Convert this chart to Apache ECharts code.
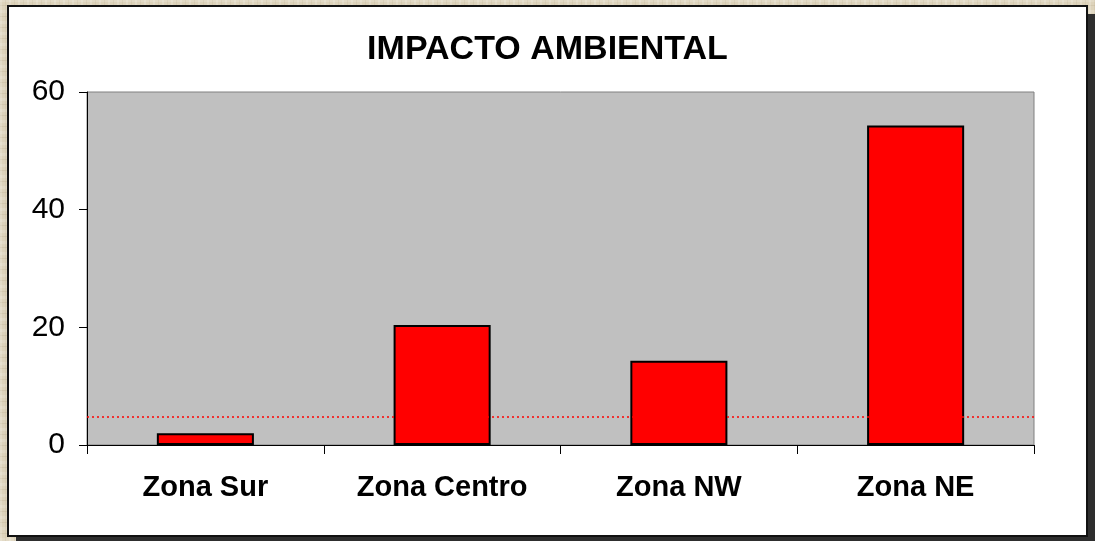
<!DOCTYPE html>
<html>
<head>
<meta charset="utf-8">
<title>IMPACTO AMBIENTAL</title>
<script src="https://cdn.jsdelivr.net/npm/echarts@6/dist/echarts.min.js"></script>
<style>
  html, body { margin: 0; padding: 0; width: 1095px; height: 541px; overflow: hidden; }
  body {
    background-color: #ddd3bb;
    background-image:
      repeating-linear-gradient(90deg, rgba(255,255,255,0.18) 0 2px, rgba(0,0,0,0) 2px 5px, rgba(150,130,90,0.10) 5px 6px, rgba(0,0,0,0) 6px 9px),
      repeating-linear-gradient(0deg, rgba(255,255,255,0.15) 0 3px, rgba(0,0,0,0) 3px 7px, rgba(140,120,80,0.12) 7px 8px, rgba(0,0,0,0) 8px 11px);
  }
  #frame {
    position: absolute; left: 7px; top: 5px; width: 1077px; height: 528px;
    background: #fff; border: 2px solid #111;
    box-shadow: 9px 9px 0 #2e2e2e;
  }
  #chart { position: absolute; left: 0; top: 0; width: 1095px; height: 541px; }
</style>
</head>
<body>
<div id="frame"></div>
<div id="chart"></div>
<script>
// Environmental impact per zone
const categories = ['Zona Sur', 'Zona Centro', 'Zona NW', 'Zona NE'];
const impactValues = [2.0, 20.4, 14.3, 54.3];
const referenceLevel = 4.8;
const yTicks = { min: 0, max: 60, interval: 20 };

const chart = echarts.init(document.getElementById('chart'), null, { renderer: 'canvas' });

chart.setOption({
  backgroundColor: 'transparent',
  animation: false,
  title: {
    text: 'IMPACTO AMBIENTAL',
    left: 'center',
    top: 28,
    textStyle: { fontFamily: 'Liberation Sans, Arial, sans-serif', fontSize: 34, fontWeight: 'bold', color: '#000' }
  },
  grid: {
    left: 87, right: 61, top: 92, bottom: 96,
    show: true, backgroundColor: '#c0c0c0', borderColor: '#808080', borderWidth: 1
  },
  xAxis: {
    type: 'category',
    data: categories,
    boundaryGap: true,
    axisLine: { show: true, lineStyle: { color: '#000', width: 1 } },
    axisTick: { show: true, inside: false, length: 9, alignWithLabel: false, lineStyle: { color: '#000' } },
    axisLabel: {
      margin: 28,
      fontFamily: 'Liberation Sans, Arial, sans-serif', fontSize: 29, fontWeight: 'bold', color: '#000'
    },
    splitLine: { show: false }
  },
  yAxis: {
    type: 'value',
    min: yTicks.min, max: yTicks.max, interval: yTicks.interval,
    axisLine: { show: true, lineStyle: { color: '#000', width: 1 } },
    axisTick: { show: true, inside: false, length: 8, lineStyle: { color: '#000' } },
    axisLabel: {
      margin: 22,
      fontFamily: 'Liberation Sans, Arial, sans-serif', fontSize: 30, color: '#000'
    },
    splitLine: { show: false }
  },
  series: [{
    type: 'bar',
    data: impactValues,
    barWidth: '41%',
    itemStyle: { color: '#ff0000', borderColor: '#000', borderWidth: 2 },
    markLine: {
      silent: true,
      symbol: 'none',
      label: { show: false },
      lineStyle: { color: '#ff0000', type: [2, 3], width: 1.5 },
      data: [{ yAxis: referenceLevel }]
    }
  }]
});
</script>
</body>
</html>
